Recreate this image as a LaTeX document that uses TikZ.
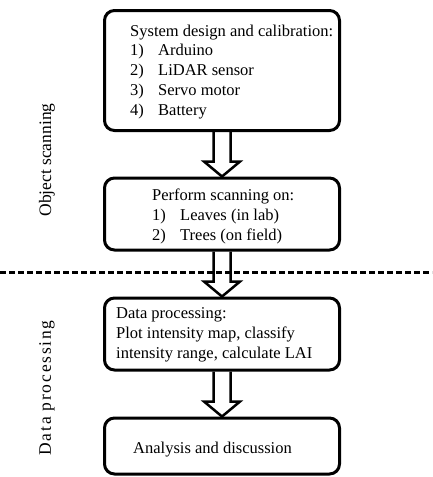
\documentclass[tikz,border=0pt]{standalone}
\usepackage{fontspec}
\setmainfont{Liberation Serif}
\newfontfamily\spacedserif[LetterSpace=10]{Liberation Serif}
\usetikzlibrary{positioning}
\newcommand\flowarrow[2]{%
  \draw[arrowline] ([xshift=-8.5pt]#1.south) -- ([xshift=-8.5pt,yshift=15pt]#2.north)
    -- ([xshift=-18pt,yshift=15pt]#2.north) -- (#2.north)
    -- ([xshift=18pt,yshift=15pt]#2.north) -- ([xshift=8.5pt,yshift=15pt]#2.north)
    -- ([xshift=8.5pt]#1.south);}
\begin{document}
\begin{tikzpicture}[x=1pt,y=-1pt,
    every node/.style={font=\fontsize{16.5}{19.7}\selectfont},
    stage/.style={draw,line width=3pt,rounded corners=10pt,minimum width=235pt,inner sep=0pt},
    stagetext/.style={anchor=base west,align=left,inner sep=0pt},
    arrowline/.style={line width=2.5pt,line join=miter},
    sepline/.style={line width=2.5pt,dash pattern=on 6pt off 3pt},
    sidelabel/.style={rotate=90,inner sep=0pt,font=\fontsize{17.5}{20}\selectfont}]
  \path[use as bounding box] (0,0) rectangle (432,477);
  \coordinate (sepwest) at (0,272.5);
  \coordinate (sepeast) at (432,272.5);
  \draw[sepline] (sepwest) -- (sepeast);
  \node[stage,minimum height=120pt] (design) at (222,70.5) {};
  \node[stagetext] (designtext) at (130,115) {System design and calibration:\\
    \makebox[28pt][l]{1)}Arduino\\
    \makebox[28pt][l]{2)}LiDAR sensor\\
    \makebox[28pt][l]{3)}Servo motor\\
    \makebox[28pt][l]{4)}Battery};
  \node[stage,minimum height=72pt] (scan) at (222,214) {};
  \node[stagetext] (scantext) at (152,240) {Perform scanning on:\\
    \makebox[28pt][l]{1)}Leaves (in lab)\\
    \makebox[28pt][l]{2)}Trees (on field)};
  \node[stage,minimum height=72pt] (proc) at (222,334) {};
  \node[stagetext] (proctext) at (116,358) {Data processing:\\
    Plot intensity map, classify\\
    intensity range, calculate LAI};
  \node[stage,minimum height=56pt] (anal) at (222,446) {};
  \node[stagetext] (analtext) at (133,453) {Analysis and discussion};
  \flowarrow{design}{scan}
  \flowarrow{scan}{proc}
  \flowarrow{proc}{anal}
  \node[sidelabel] (scanlabel) at (47,160) {Object scanning};
  \node[sidelabel,font=\fontsize{17.5}{20}\spacedserif] (proclabel) at (47,388) {Data processing};
\end{tikzpicture}
\end{document}
